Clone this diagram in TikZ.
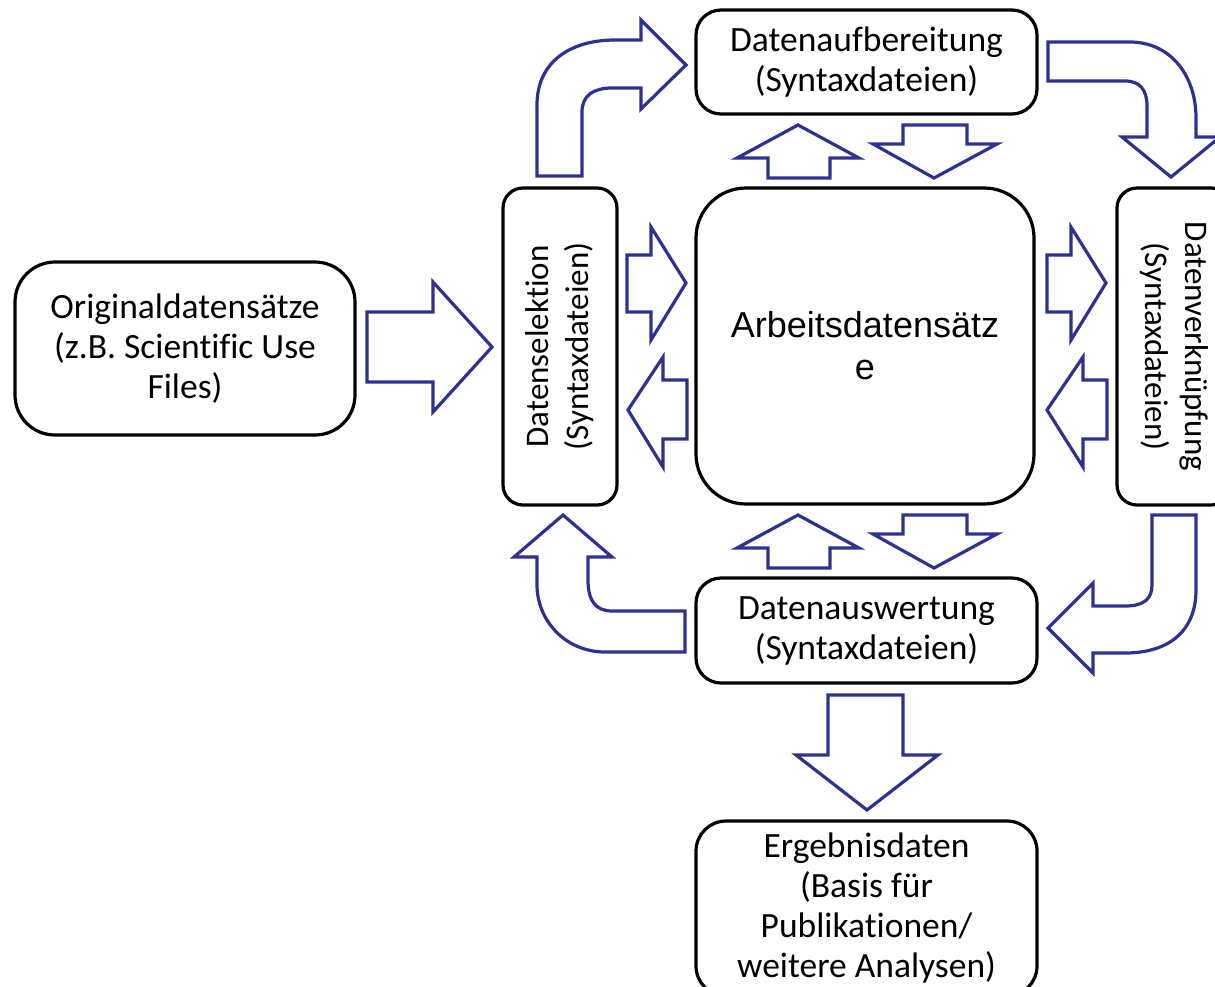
\documentclass[tikz,border=0pt]{standalone}
\usepackage{fontspec}
\setmainfont{Carlito}[Ligatures=NoCommon]
\newfontfamily\arialfont{Liberation Sans}
\definecolor{arrowblue}{HTML}{2E3192}
\begin{document}
\begin{tikzpicture}[x=1pt,y=-1pt,
  box/.style={draw=black,line width=3.2pt,fill=white,align=center,inner sep=0pt,
    font=\fontsize{35.5}{40}\selectfont},
  vbox/.style={box,font=\fontsize{33}{40}\selectfont},
  blockarrow/.style={draw=arrowblue,line width=3.2pt,fill=white,line join=miter}]
\clip (0,0) rectangle (1215,986);
\useasboundingbox (0,0) rectangle (1215,986);

% boxes
\node[box,rounded corners=40pt,minimum width=340pt,minimum height=173pt] (orig) at (185,348.5)
  {Originaldatensätze\\(z.B. Scientific Use\\Files)};
\node[vbox,rounded corners=20pt,minimum width=317pt,minimum height=114pt,rotate=90] (sel) at (560,346.5)
  {Datenselektion\\(Syntaxdateien)};
\node[box,rounded corners=50pt,minimum width=338pt,minimum height=316pt,
  font=\arialfont\fontsize{36}{42}\selectfont] (arb) at (865,346)
  {Arbeitsdatensätz\\e};
\node[vbox,rounded corners=20pt,minimum width=317pt,minimum height=114pt,rotate=-90] (verk) at (1174,346.5)
  {Datenverknüpfung\\(Syntaxdateien)};
\node[box,rounded corners=25pt,minimum width=341pt,minimum height=104pt] (aufb) at (866.5,62)
  {Datenaufbereitung\\(Syntaxdateien)};
\node[box,rounded corners=25pt,minimum width=341pt,minimum height=105pt] (ausw) at (866.5,630.5)
  {Datenauswertung\\(Syntaxdateien)};
\node[box,rounded corners=30pt,minimum width=341pt,minimum height=175pt] (erg) at (866.5,908.5)
  {Ergebnisdaten\\(Basis für\\Publikationen/\\weitere Analysen)};

% big arrow orig -> sel
\draw[blockarrow] (367,312) -- (433,312) -- (433,282) -- (492,347) -- (433,412) -- (433,382) -- (367,382) -- cycle;

% sel <-> arb
\draw[blockarrow] (627,255) -- (651,255) -- (651,227) -- (686,283) -- (651,340) -- (651,312) -- (627,312) -- cycle;
\draw[blockarrow] (628,410) -- (663,357) -- (663,380) -- (687,380) -- (687,439) -- (663,439) -- (663,467) -- cycle;

% arb <-> verk
\draw[blockarrow] (1047,255) -- (1071,255) -- (1071,227) -- (1106,283) -- (1071,340) -- (1071,312) -- (1047,312) -- cycle;
\draw[blockarrow] (1047,410) -- (1083,357) -- (1083,380) -- (1107,380) -- (1107,439) -- (1083,439) -- (1083,467) -- cycle;

% aufb <-> arb
\draw[blockarrow] (798,125) -- (859,158) -- (830,158) -- (830,178) -- (768,178) -- (768,158) -- (737,158) -- cycle;
\draw[blockarrow] (903,125) -- (967,125) -- (967,144) -- (997,144) -- (934,178) -- (873,144) -- (903,144) -- cycle;

% arb <-> ausw
\draw[blockarrow] (798,515) -- (859,548) -- (830,548) -- (830,568) -- (768,568) -- (768,548) -- (737,548) -- cycle;
\draw[blockarrow] (903,515) -- (967,515) -- (967,534) -- (997,534) -- (934,568) -- (873,534) -- (903,534) -- cycle;

% ausw -> erg
\draw[blockarrow] (828,695) -- (903,695) -- (903,755) -- (938,755) -- (867,810) -- (796,755) -- (828,755) -- cycle;

% curved: sel -> aufb
\draw[blockarrow] (537,176) -- (537,105) .. controls (537,62) and (570,40) .. (615,40) -- (641,40) -- (641,20)
  -- (686,65) -- (641,109) -- (641,88) -- (612,88) .. controls (594,88) and (582,95) .. (582,112) -- (582,176) -- cycle;

% curved: aufb -> verk
\draw[blockarrow] (1048,42) -- (1130,42) .. controls (1170,42) and (1196,75) .. (1196,118) -- (1196,137) -- (1220,137)
  -- (1171,177) -- (1122,137) -- (1147,137) -- (1147,106) .. controls (1147,90) and (1140,81) .. (1125,81) -- (1048,81) -- cycle;

% curved: verk -> ausw
\draw[blockarrow] (1152,515) -- (1196,515) -- (1196,590) .. controls (1196,630) and (1170,653) .. (1125,653) -- (1093,653)
  -- (1093,673) -- (1048,628) -- (1093,583) -- (1093,606) -- (1125,606) .. controls (1145,606) and (1152,598) .. (1152,585) -- cycle;

% curved: ausw -> sel
\draw[blockarrow] (563,515) -- (612,557) -- (588,557) -- (588,580) .. controls (588,600) and (595,611) .. (612,611) -- (685,611)
  -- (685,652) -- (605,652) .. controls (565,652) and (537,620) .. (537,585) -- (537,557) -- (514,557) -- cycle;
\end{tikzpicture}
\end{document}
